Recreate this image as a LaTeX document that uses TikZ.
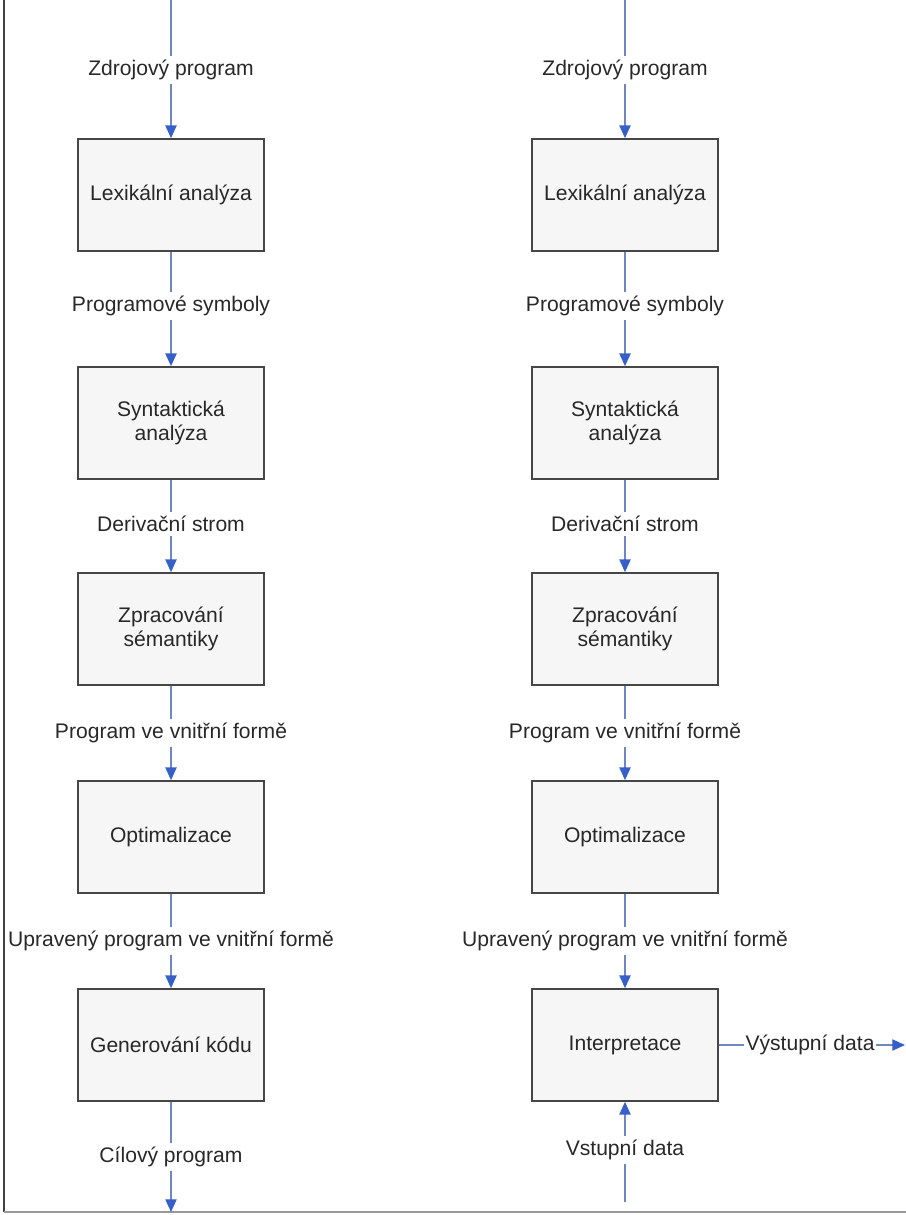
\documentclass[tikz,border=0pt]{standalone}
\usepackage{fontspec}
\setmainfont{Liberation Sans}
\usepackage{tikz}
\usetikzlibrary{arrows.meta,positioning}
\definecolor{flowline}{RGB}{110,135,190}
\definecolor{flowtip}{RGB}{55,95,200}
\definecolor{boxfill}{RGB}{246,246,246}
\definecolor{boxedge}{RGB}{70,70,70}
\definecolor{txt}{RGB}{40,40,40}

\begin{document}
\begin{tikzpicture}[x=0.025cm,y=-0.025cm,
    stage/.style={draw=boxedge,line width=1.2pt,fill=boxfill,minimum width=4.65cm,
      minimum height=2.8cm,align=center,text=txt,font=\fontsize{15}{17}\selectfont},
    flowlbl/.style={inner sep=3pt,text=txt,font=\fontsize{15}{17}\selectfont},
    flow/.style={draw=flowline,line width=0.8pt,
      -{Triangle[length=9pt,width=8pt,fill=flowtip,color=flowtip]}}]
  \useasboundingbox (0,0) rectangle (906,1215);
  % frame
  \draw[black!75,line width=1.2pt] (4,0) -- (4,1212);
  \draw[black!40,line width=1.2pt] (4,1212) -- (906,1212);
  % common stages of both columns
  \foreach \c/\x in {L/171,R/625} {
    \coordinate (top\c) at (\x,0);
    \node[flowlbl] (zdr\c) at (\x,70) {Zdrojový program};
    \node[stage] (lex\c) at (\x,195) {Lexikální analýza};
    \node[flowlbl] (sym\c) at (\x,306) {Programové symboly};
    \node[stage] (syn\c) at (\x,423) {Syntaktická\\analýza};
    \node[flowlbl] (der\c) at (\x,524) {Derivační strom};
    \node[stage] (sem\c) at (\x,629) {Zpracování\\sémantiky};
    \node[flowlbl] (vnf\c) at (\x,733) {Program ve vnitřní formě};
    \node[stage] (opt\c) at (\x,837) {Optimalizace};
    \node[flowlbl] (upr\c) at (\x,941) {Upravený program ve vnitřní formě};
    \draw[flow] (top\c) -- (zdr\c) -- (lex\c);
    \draw[flow] (lex\c) -- (sym\c) -- (syn\c);
    \draw[flow] (syn\c) -- (der\c) -- (sem\c);
    \draw[flow] (sem\c) -- (vnf\c) -- (opt\c);
  }
  % compiler
  \node[stage] (genL) at (171,1045) {Generování kódu};
  \node[flowlbl] (cilL) at (171,1157) {Cílový program};
  \coordinate (endL) at (171,1212);
  \draw[flow] (optL) -- (uprL) -- (genL);
  \draw[flow] (genL) -- (cilL) -- (endL);
  % interpreter
  \node[stage] (intR) at (625,1045) {Interpretace};
  \node[flowlbl] (vstR) at (625,1150) {Vstupní data};
  \coordinate (inR) at (625,1202);
  \node[flowlbl,inner sep=1pt] (vysR) at (810,1045) {Výstupní data};
  \coordinate (outR) at (905,1045);
  \draw[flow] (optR) -- (uprR) -- (intR);
  \draw[flow] (inR) -- (vstR) -- (intR);
  \draw[flow] (intR) -- (vysR) -- (outR);
\end{tikzpicture}
\end{document}
